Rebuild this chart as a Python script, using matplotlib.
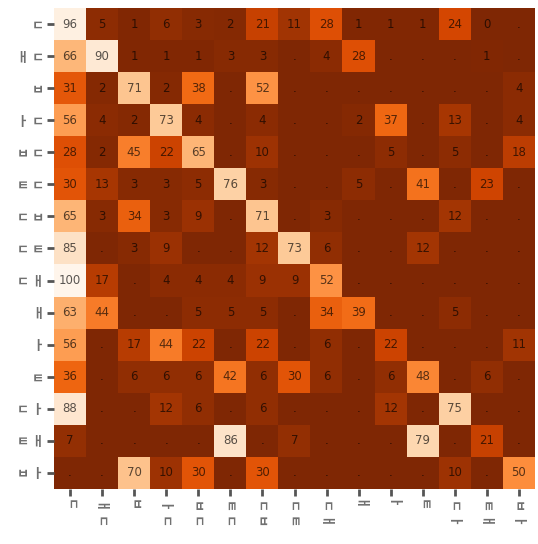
import numpy as np
import matplotlib
matplotlib.use("Agg")
import matplotlib.pyplot as plt

plt.rcParams['font.family'] = ['Noto Sans CJK KR', 'DejaVu Sans']

labels = ["ㄷ", "ㅐ ㄷ", "ㅂ", "ㅏ ㄷ", "ㅂ ㄷ", "ㅌ ㄷ", "ㄷ ㅂ", "ㄷ ㅌ",
          "ㄷ ㅐ", "ㅐ", "ㅏ", "ㅌ", "ㄷ ㅏ", "ㅌ ㅐ", "ㅂ ㅏ"]

N = None
row_c    = [96, 5, 1, 6, 3, 2, 21, 11, 28, 1, 1, 1, 24, 0, N]
row_llc  = [66, 90, 1, 1, 1, 3, 3, N, 4, 28, N, N, N, 1, N]
row_b    = [31, 2, 71, 2, 38, N, 52, N, N, N, N, N, N, N, 4]
row_lrc  = [56, 4, 2, 73, 4, N, 4, N, N, 2, 37, N, 13, N, 4]
row_bc   = [28, 2, 45, 22, 65, N, 10, N, N, N, 5, N, 5, N, 18]
row_tc   = [30, 13, 3, 3, 5, 76, 3, N, N, 5, N, 41, N, 23, N]
row_cb   = [65, 3, 34, 3, 9, N, 71, N, 3, N, N, N, 12, N, N]
row_ct   = [85, N, 3, 9, N, N, 12, 73, 6, N, N, 12, N, N, N]
row_cll  = [100, 17, N, 4, 4, 4, 9, 9, 52, N, N, N, N, N, N]
row_ll   = [63, 44, N, N, 5, 5, 5, N, 34, 39, N, N, 5, N, N]
row_lr   = [56, N, 17, 44, 22, N, 22, N, 6, N, 22, N, N, N, 11]
row_t    = [36, N, 6, 6, 6, 42, 6, 30, 6, N, 6, 48, N, 6, N]
row_clr  = [88, N, N, 12, 6, N, 6, N, N, N, 12, N, 75, N, N]
row_tll  = [7, N, N, N, N, 86, N, 7, N, N, N, 79, N, 21, N]
row_blr  = [N, N, 70, 10, 30, N, 30, N, N, N, N, N, 10, N, 50]

rows = [row_c, row_llc, row_b, row_lrc, row_bc, row_tc, row_cb, row_ct,
        row_cll, row_ll, row_lr, row_t, row_clr, row_tll, row_blr]

vals = np.array([[0 if v is None else v for v in r] for r in rows], dtype=float)

fig = plt.figure(figsize=(5.38, 5.44), dpi=100)
ax = fig.add_axes([54/538, 1 - 489/544, (535-54)/538, (489-8)/544])
ax.imshow(vals, cmap="Oranges_r", vmin=0, vmax=100, aspect="auto",
          interpolation="nearest")

for i, r in enumerate(rows):
    for j, v in enumerate(r):
        txt = "." if v is None else str(v)
        ax.text(j, i, txt, ha="center", va="center", fontsize=8.5,
                color="black", alpha=0.65, family="DejaVu Sans")

n = len(labels)
ax.set_xticks(range(n))
ax.set_yticks(range(n))
ax.set_xticklabels(labels, rotation=270, fontsize=9.5, color="#707070",
                   fontweight="bold")
ax.set_yticklabels(labels, fontsize=9.5, color="#707070", fontweight="bold")
ax.tick_params(length=5, width=2, color="#555555", pad=2)
for s in ax.spines.values():
    s.set_visible(False)

fig.savefig("out.png", dpi=100)
